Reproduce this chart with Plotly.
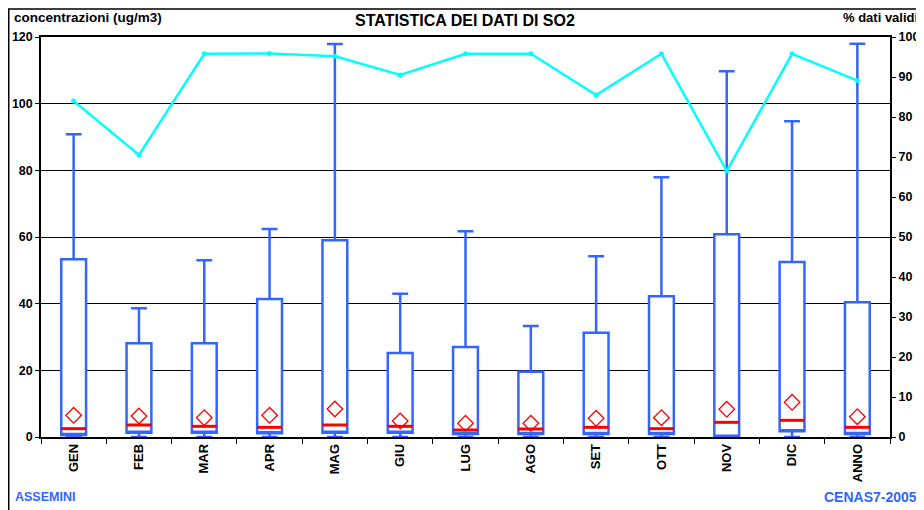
import plotly.graph_objects as go

categories = ["GEN", "FEB", "MAR", "APR", "MAG", "GIU", "LUG", "AGO", "SET", "OTT", "NOV", "DIC", "ANNO"]
minimum = [0.0, 0.0, 0.0, 0.0, 0.0, 0.0, 0.0, 0.0, 0.0, 0.0, 0.0, 0.0, 0.0]
q1 = [0.6, 1.3, 1.3, 1.1, 1.3, 1.3, 0.9, 0.9, 0.9, 0.9, 0.1, 1.7, 0.9]
median = [2.5, 3.6, 3.2, 2.9, 3.6, 3.2, 2.1, 2.4, 2.9, 2.5, 4.4, 5.0, 2.9]
q3 = [53.3, 28.1, 28.1, 41.4, 59.0, 25.2, 27.0, 19.6, 31.3, 42.2, 60.8, 52.5, 40.4]
maximum = [90.8, 38.6, 53.0, 62.4, 117.9, 43.0, 61.7, 33.3, 54.2, 77.9, 109.7, 94.7, 118.0]
mean = [6.5, 6.3, 5.8, 6.5, 8.4, 4.8, 4.1, 4.1, 5.6, 5.8, 8.3, 10.4, 6.1]
valid_pct = [84.0, 70.5, 95.8, 95.9, 95.2, 90.5, 95.8, 95.8, 85.5, 95.8, 66.5, 95.8, 89.1]

BLUE = "#3366ff"
FONT = "Liberation Sans, Arial, sans-serif"

fig = go.Figure()

fig.add_trace(go.Box(
    x=categories, q1=q1, median=q1, q3=q3,
    lowerfence=minimum, upperfence=maximum,
    width=0.38, whiskerwidth=0.64,
    line=dict(color=BLUE, width=2.5), fillcolor="white",
    boxpoints=False, showlegend=False, hoverinfo="skip",
))

fig.add_trace(go.Scatter(
    x=categories, y=median, mode="markers",
    marker=dict(symbol="line-ew", size=18, line=dict(color="#ff0000", width=3)),
    showlegend=False, hoverinfo="skip",
))

fig.add_trace(go.Scatter(
    x=categories, y=mean, mode="markers",
    marker=dict(symbol="diamond-open", size=12, color="#ff0000", line=dict(color="#ff0000", width=1.3)),
    showlegend=False, hoverinfo="skip",
))

fig.add_trace(go.Scatter(
    x=categories, y=valid_pct, mode="lines+markers", yaxis="y2",
    line=dict(color="#00ffff", width=2.5),
    marker=dict(color="#00ffff", size=5),
    showlegend=False, hoverinfo="skip",
))

tickfont = dict(family=FONT, size=12.5, color="black", weight="bold")
xtickfont = dict(family=FONT, size=13, color="black", weight="bold")

fig.update_layout(
    template="none",
    width=916, height=502,
    margin=dict(l=33, r=34, t=29, b=73, autoexpand=False),
    paper_bgcolor="white", plot_bgcolor="white",
    showlegend=False,
    xaxis=dict(
        type="category", range=[-0.5, 12.5], automargin=False,
        tickangle=-90, tickfont=xtickfont,
        showline=True, linecolor="black", linewidth=1.5, mirror=True,
        ticks="outside", ticklen=5, tickcolor="black", tickson="boundaries",
        showgrid=False, zeroline=False,
    ),
    yaxis=dict(
        range=[0, 120], dtick=20, tickfont=tickfont, automargin=False,
        showline=True, linecolor="black", linewidth=1.5,
        ticks="outside", ticklen=4, tickcolor="black",
        showgrid=True, gridcolor="black", gridwidth=1, zeroline=False,
    ),
    yaxis2=dict(
        range=[0, 100], dtick=10, tickfont=tickfont, automargin=False,
        overlaying="y", side="right",
        showline=True, linecolor="black", linewidth=2,
        ticks="outside", ticklen=4, tickcolor="black",
        showgrid=False, zeroline=False,
    ),
    annotations=[
        dict(text="concentrazioni (ug/m3)", xref="paper", yref="paper", x=-0.034, y=1.049,
             xanchor="left", yanchor="middle", showarrow=False,
             font=dict(family=FONT, size=13.5, color="black", weight="bold")),
        dict(text="STATISTICA DEI DATI DI SO2", xref="paper", yref="paper", x=0.4994, y=1.042,
             xanchor="center", yanchor="middle", showarrow=False,
             font=dict(family=FONT, size=16, color="black", weight="bold")),
        dict(text="% dati validi", xref="paper", yref="paper", x=1.035, y=1.049,
             xanchor="right", yanchor="middle", showarrow=False,
             font=dict(family=FONT, size=13, color="black", weight="bold")),
        dict(text="ASSEMINI", xref="paper", yref="paper", x=-0.033, y=-0.151,
             xanchor="left", yanchor="middle", showarrow=False,
             font=dict(family=FONT, size=12.5, color=BLUE, weight="bold")),
        dict(text="CENAS7-2005", xref="paper", yref="paper", x=1.034, y=-0.151,
             xanchor="right", yanchor="middle", showarrow=False,
             font=dict(family=FONT, size=14, color=BLUE, weight="bold")),
    ],
    shapes=[
        dict(type="rect", xref="paper", yref="paper", x0=-0.038, x1=1.0365, y0=-0.2, y1=1.07,
             line=dict(color="black", width=1.5), fillcolor="rgba(0,0,0,0)", layer="below"),
    ],
)

fig.write_html("out.html")
